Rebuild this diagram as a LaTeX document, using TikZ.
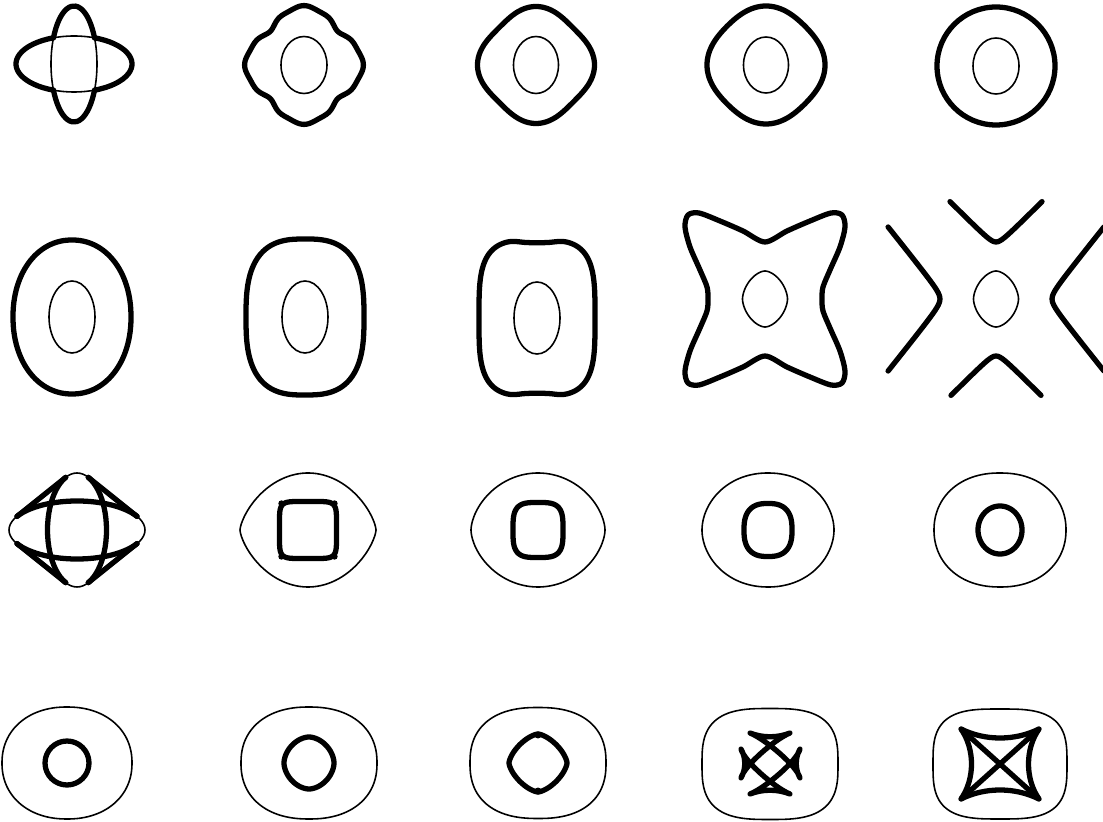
\documentclass[tikz,border=0pt]{standalone}
\usepackage{tikz}

\tikzset{
  wave/.style={line width=1.5pt, line cap=round, line join=round},
  slow/.style={line width=0.45pt},
}
% superellipse through the plot handler, x radius, y radius, exponents
\newcommand{\superoval}[4]{plot[domain=1:361, samples=121]
  ({#1*supx(\x,#3)}, {#2*supy(\x,#4)}) -- cycle}

\begin{document}
\begin{tikzpicture}[x=0.01cm, y=-0.01cm,
    declare function={
      supx(\t,\e)=sign(cos(\t))*abs(cos(\t))^(2/\e);
      supy(\t,\e)=sign(sin(\t))*abs(sin(\t))^(2/\e);
    }]
\useasboundingbox (0,0) rectangle (1103,822);

% centres of the panels
\coordinate (c11) at (74,64);   \coordinate (c12) at (304,65);
\coordinate (c13) at (536,65);  \coordinate (c14) at (766,65);
\coordinate (c15) at (996,66);
\coordinate (c21) at (72,317);  \coordinate (c22) at (305,317);
\coordinate (c23) at (537,318); \coordinate (c24) at (765,299);
\coordinate (c25) at (996,299);
\coordinate (c31) at (77,530);  \coordinate (c32) at (308,530);
\coordinate (c33) at (538,530); \coordinate (c34) at (768,530);
\coordinate (c35) at (1000,530);
\coordinate (c41) at (67,763);  \coordinate (c42) at (309,763);
\coordinate (c43) at (538,763); \coordinate (c44) at (770,764);
\coordinate (c45) at (1000,764);

% row 1
\begin{scope}[shift={(c11)}]
  \draw[slow] (0,0) ellipse [x radius=23, y radius=58];
  \draw[slow] (0,0) ellipse [x radius=58, y radius=28];
  \draw[wave] (26.85:23 and 58) arc[start angle=26.85, end angle=153.15, x radius=23, y radius=58];
  \draw[wave] (206.85:23 and 58) arc[start angle=206.85, end angle=333.15, x radius=23, y radius=58];
  \draw[wave] (-69.3:58 and 28) arc[start angle=-69.3, end angle=69.3, x radius=58, y radius=28];
  \draw[wave] (110.7:58 and 28) arc[start angle=110.7, end angle=249.3, x radius=58, y radius=28];
\end{scope}
\begin{scope}[shift={(c12)}]
  \draw[wave] plot[domain=0:360, samples=181] (\x:{54+5*cos(4*\x)-0.5*cos(8*\x)+0.9*cos(12*\x)}) -- cycle;
  \draw[slow] (0,0) ellipse [x radius=23, y radius=28.5];
\end{scope}
\begin{scope}[shift={(c13)}]
  \draw[wave] plot[domain=0:360, samples=145] (\x:{55.5+3*cos(4*\x)}) -- cycle;
  \draw[slow] (0,0) ellipse [x radius=22.5, y radius=28.5];
\end{scope}
\begin{scope}[shift={(c14)}]
  \draw[wave] plot[domain=0:360, samples=145] (\x:{57+2*cos(4*\x)}) -- cycle;
  \draw[slow] (0,0) ellipse [x radius=22.5, y radius=28];
\end{scope}
\begin{scope}[shift={(c15)}]
  \draw[wave] (0,0) circle [radius=59];
  \draw[slow] (0,0) ellipse [x radius=23, y radius=28];
\end{scope}

% row 2
\begin{scope}[shift={(c21)}]
  \draw[wave] \superoval{59}{77}{2.1}{2.1};
  \draw[slow] (0,0) ellipse [x radius=23, y radius=36];
\end{scope}
\begin{scope}[shift={(c22)}]
  \draw[wave] \superoval{59}{78}{2.8}{2.8};
  \draw[slow] (0,0) ellipse [x radius=23, y radius=36];
\end{scope}
\begin{scope}[shift={(c23)}]
  \draw[wave] plot[domain=1:361, samples=181]
    ({58*supx(\x,3.6)}, {78*supy(\x,3.6)*(1-0.035*abs(sin(\x))^80)}) -- cycle;
  \draw[slow] (0,0) ellipse [x radius=23, y radius=36];
\end{scope}
\begin{scope}[shift={(c24)}]
  \draw[wave] plot[smooth cycle] coordinates {
    (0,-57) (22,-68) (45,-78) (66,-86) (77,-84) (80,-72) (75,-52) (65,-29) (58,-12)
    (57,0) (58,12) (65,29) (75,52) (80,72) (77,84) (66,86) (45,78) (22,68)
    (0,57) (-22,68) (-45,78) (-66,86) (-77,84) (-80,72) (-75,52) (-65,29) (-58,12)
    (-57,0) (-58,-12) (-65,-29) (-75,-52) (-80,-72) (-77,-84) (-66,-86) (-45,-78) (-22,-68)};
  \draw[slow] \superoval{22.5}{28}{1.7}{1.7};
\end{scope}
\begin{scope}[shift={(c25)}]
  \draw[wave] plot[domain=-46:46, samples=47] (\x, {-(51+sqrt(36+\x*\x))});
  \draw[wave] plot[domain=-45:45, samples=47] (\x, {51+sqrt(36+\x*\x)});
  \draw[wave] plot[domain=-72:72, samples=49] ({-(50+sqrt(36+0.64*\x*\x))}, \x);
  \draw[wave] plot[domain=-72:72, samples=49] ({50+sqrt(36+0.64*\x*\x)}, \x);
  \draw[slow] \superoval{22.5}{28}{1.7}{1.7};
\end{scope}

% row 3
\begin{scope}[shift={(c31)}]
  \draw[slow] (0,0) ellipse [x radius=29.5, y radius=57];
  \draw[slow] (0,0) ellipse [x radius=68, y radius=29];
  \draw[wave] (-67.5:29.5 and 57) arc[start angle=-67.5, end angle=67.5, x radius=29.5, y radius=57];
  \draw[wave] (112.5:29.5 and 57) arc[start angle=112.5, end angle=247.5, x radius=29.5, y radius=57];
  \draw[wave] (28:68 and 29) arc[start angle=28, end angle=152, x radius=68, y radius=29];
  \draw[wave] (208:68 and 29) arc[start angle=208, end angle=332, x radius=68, y radius=29];
  \draw[wave] (-11.3,-52.6) -- (-60,-13.6);
  \draw[wave] (11.3,-52.6) -- (60,-13.6);
  \draw[wave] (-11.3,52.6) -- (-60,13.6);
  \draw[wave] (11.3,52.6) -- (60,13.6);
\end{scope}
\begin{scope}[shift={(c32)}]
  \draw[slow] \superoval{68}{57}{2}{1.45};
  \draw[wave] \superoval{28.5}{28.5}{6}{6};
  \foreach \sx/\sy in {-1/-1, 1/-1, -1/1, 1/1}
    \fill (26.5*\sx, 26.5*\sy) circle [radius=3.2];
\end{scope}
\begin{scope}[shift={(c33)}]
  \draw[slow] \superoval{67}{57}{2}{1.7};
  \draw[wave] \superoval{25}{27.5}{3.5}{3.5};
\end{scope}
\begin{scope}[shift={(c34)}]
  \draw[slow] \superoval{66}{57}{2.1}{1.9};
  \draw[wave] \superoval{24}{26.5}{2.6}{2.6};
\end{scope}
\begin{scope}[shift={(c35)}]
  \draw[slow] \superoval{66}{57}{2.2}{2.1};
  \draw[wave] \superoval{22}{24}{2}{2};
\end{scope}

% row 4
\begin{scope}[shift={(c41)}]
  \draw[slow] \superoval{65}{56}{2.15}{2.15};
  \draw[wave] (0,0) circle [radius=22];
\end{scope}
\begin{scope}[shift={(c42)}]
  \draw[slow] \superoval{68}{56}{2.25}{2.25};
  \draw[wave] \superoval{25}{26}{1.8}{1.8};
\end{scope}
\begin{scope}[shift={(c43)}]
  \draw[slow] \superoval{68}{55.5}{2.4}{2.4};
  \draw[wave] \superoval{29}{29}{1.5}{1.5};
  \fill (0,-28) circle [radius=3.5];
  \fill (0,28) circle [radius=3.5];
\end{scope}
\begin{scope}[shift={(c44)}]
  \draw[slow] \superoval{68}{55.5}{3}{3};
  \draw[wave] (-20,-31) .. controls (-7,-26) and (7,-26) .. (20,-31)
    .. controls (5,-25) and (-26,2) .. (-29,14)
    .. controls (-24,5) and (-24,-6) .. (-29,-15)
    .. controls (-26,-3) and (5,24) .. (20,30)
    .. controls (7,25) and (-7,25) .. (-20,30)
    .. controls (-5,24) and (27,-3) .. (30,-15)
    .. controls (25,-6) and (25,5) .. (30,14)
    .. controls (27,2) and (-5,-25) .. (-20,-31) -- cycle;
\end{scope}
\begin{scope}[shift={(c45)}]
  \draw[slow] \superoval{67}{55}{3.2}{3.2};
  \draw[wave] (-39,-35) .. controls (-15,-23) and (15,-23) .. (39,-35)
    .. controls (25,-15) and (25,15) .. (39,35)
    .. controls (15,23) and (-15,23) .. (-39,35)
    .. controls (-25,15) and (-25,-15) .. (-39,-35) -- cycle;
  \draw[wave] (-39,-35) -- (39,35);
  \draw[wave] (39,-35) -- (-39,35);
\end{scope}
\end{tikzpicture}
\end{document}
